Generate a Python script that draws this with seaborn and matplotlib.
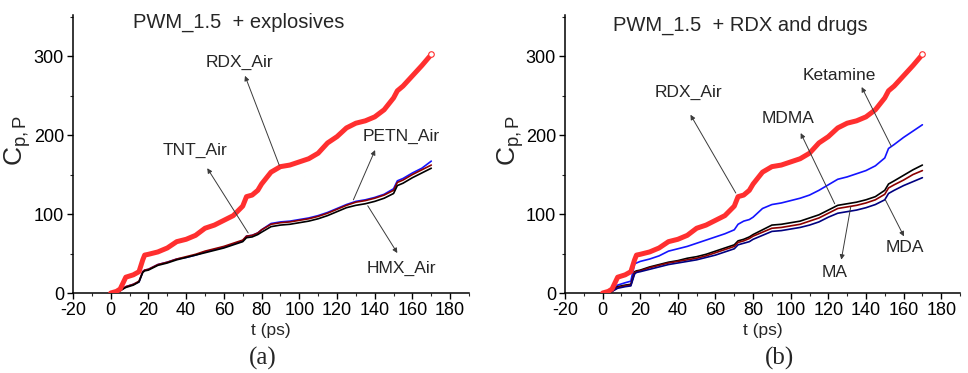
import matplotlib
matplotlib.use("Agg")
import matplotlib.pyplot as plt
import seaborn as sns
from matplotlib.ticker import MultipleLocator

# ---------------- data ----------------
t = [0, 3, 5, 8, 12, 15, 17, 18, 20, 25, 30, 35, 40, 45, 50, 55, 60, 65, 70, 72,
     75, 78, 80, 85, 90, 95, 100, 105, 110, 115, 120, 125, 130, 135, 140, 145,
     150, 152, 155, 160, 165, 170]

rdx_air = [0, 2, 5, 20, 23, 27, 42, 48, 49, 52, 57, 65, 68, 73, 82, 86, 92, 98, 110, 122,
           124, 130, 138, 153, 160, 162, 166, 170, 177, 190, 198, 209, 215, 218, 223, 232,
           247, 256, 262, 275, 288, 302]

# panel (a)
petn_air = [0, 1, 3, 8, 11, 14, 27, 29, 30, 36, 39, 43, 45, 48, 52, 55, 58, 62, 66, 72,
            73, 76, 80, 88, 90, 91, 93, 95, 98, 102, 107, 112, 116, 118, 121, 125,
            132, 142, 145, 152, 158, 167]
tnt_air = [0, 1, 3, 8, 11, 15, 27, 29, 30, 36, 39, 43, 46, 49, 53, 56, 59, 63, 67, 72,
           73, 76, 80, 87, 89, 90, 92, 94, 97, 101, 106, 111, 115, 117, 120, 124,
           130, 140, 143, 150, 156, 162]
hmx_air = [0, 1, 3, 7, 10, 14, 26, 28, 29, 35, 38, 42, 45, 48, 51, 54, 57, 61, 65, 70,
           71, 74, 77, 84, 86, 87, 89, 91, 94, 98, 103, 108, 111, 113, 116, 120,
           126, 136, 139, 146, 152, 158]

# panel (b)
ketamine = [0, 1, 3, 10, 13, 15, 37, 38, 40, 43, 47, 53, 56, 59, 63, 67, 71, 75, 80, 87,
            91, 93, 96, 107, 112, 114, 117, 120, 124, 130, 137, 144, 147, 151, 155, 161,
            171, 183, 188, 197, 205, 213]
mdma = [0, 1, 3, 8, 10, 11, 27, 28, 29, 33, 36, 39, 41, 44, 46, 49, 53, 57, 61, 66,
        68, 71, 74, 80, 86, 87, 89, 91, 95, 99, 105, 111, 113, 115, 118, 122,
        130, 138, 142, 149, 156, 162]
ma = [0, 1, 2, 7, 9, 10, 26, 27, 28, 32, 35, 38, 40, 42, 44, 47, 51, 55, 59, 64,
      66, 69, 72, 77, 82, 83, 85, 87, 91, 95, 101, 107, 109, 111, 114, 118,
      125, 133, 137, 143, 150, 155]
mda = [0, 0, 2, 6, 8, 9, 24, 26, 27, 30, 33, 36, 38, 40, 42, 45, 48, 52, 56, 61,
       63, 65, 68, 73, 78, 79, 81, 83, 86, 90, 96, 101, 103, 105, 108, 112,
       118, 126, 130, 136, 141, 146]

x_ticks = [-20, 0, 20, 40, 60, 80, 100, 120, 140, 160, 180]
y_ticks = [0, 100, 200, 300]

# ---------------- style ----------------
sns.set_theme(style="ticks")
plt.rcParams["font.family"] = ["Liberation Sans", "DejaVu Sans"]
plt.rcParams["axes.unicode_minus"] = False
plt.rcParams["mathtext.fontset"] = "custom"
plt.rcParams["mathtext.rm"] = "Liberation Sans"
plt.rcParams["mathtext.it"] = "Liberation Sans"

RED = "#ff2f2f"
BLUE = "#1414ff"
DRED = "#8b0000"
NAVY = "#000080"
ARROW = "#3a3a3a"

fig = plt.figure(figsize=(9.68, 3.73), dpi=100)
axA = fig.add_axes([73 / 968, 1 - 293 / 373, 396 / 968, 278 / 373])
axB = fig.add_axes([565 / 968, 1 - 293 / 373, 395 / 968, 278 / 373])


def line(ax, y, color, lw, z=2):
    sns.lineplot(x=t, y=y, ax=ax, color=color, lw=lw, estimator=None,
                 zorder=z, solid_capstyle="round", solid_joinstyle="round")


def arrow(ax, start, head):
    ax.annotate("", xy=head, xytext=start,
                arrowprops=dict(arrowstyle="-|>", color=ARROW, lw=0.7,
                                mutation_scale=7, shrinkA=0, shrinkB=0),
                zorder=5)


def style(ax):
    ax.set_xlim(-20, 190)
    ax.set_ylim(0, 352)
    ax.set_xticks(x_ticks)
    ax.set_yticks(y_ticks)
    ax.xaxis.set_minor_locator(MultipleLocator(10))
    ax.yaxis.set_minor_locator(MultipleLocator(50))
    ax.tick_params(which="major", direction="out", length=4.5, width=1.0,
                   labelsize=13, colors="black", pad=2)
    ax.tick_params(which="minor", direction="out", length=2.5, width=0.8)
    sns.despine(ax=ax)
    for s in ("left", "bottom"):
        ax.spines[s].set_linewidth(1.1)
        ax.spines[s].set_color("black")
    ax.set_xlabel("t (ps)", fontsize=12.5, labelpad=3)
    ax.set_ylabel(r"C$_{\mathregular{p,P}}$", fontsize=19)
    ax.yaxis.set_label_coords(-0.1, 0.55)
    ax.set_facecolor("white")


# ---- panel (a)
line(axA, petn_air, BLUE, 1.2)
line(axA, tnt_air, DRED, 1.2)
line(axA, hmx_air, "black", 1.2)
line(axA, rdx_air, RED, 3.6, z=3)
axA.plot(t[-1], rdx_air[-1], "o", ms=4, mfc="white", mec=RED, mew=0.8, zorder=4)
style(axA)

axA.text(68.5, 292, "RDX_Air", ha="center", va="center", fontsize=12.5)
arrow(axA, (89.4, 161.6), (71.2, 275))
axA.text(44.6, 180.6, "TNT_Air", ha="center", va="center", fontsize=12.5)
arrow(axA, (72.9, 76), (51.2, 158))
axA.text(154.3, 198, "PETN_Air", ha="center", va="center", fontsize=12.5)
arrow(axA, (128.7, 118), (140.2, 181))
axA.text(154, 31.6, "HMX_Air", ha="center", va="center", fontsize=12.5)
arrow(axA, (136.3, 110.5), (152, 50.6))

# ---- panel (b)
line(axB, ketamine, BLUE, 1.2)
line(axB, mdma, "black", 1.2)
line(axB, ma, DRED, 1.2)
line(axB, mda, NAVY, 1.2)
line(axB, rdx_air, RED, 3.6, z=3)
axB.plot(t[-1], rdx_air[-1], "o", ms=4, mfc="white", mec=RED, mew=0.8, zorder=4)
style(axB)

axB.text(45.8, 254, "RDX_Air", ha="center", va="center", fontsize=12.5)
arrow(axB, (70.8, 126.6), (46.7, 225.7))
axB.text(126, 276, "Ketamine", ha="center", va="center", fontsize=12.5)
arrow(axB, (153.5, 185.6), (137.7, 260.8))
axB.text(98.6, 221.5, "MDMA", ha="center", va="center", fontsize=12.5)
arrow(axB, (123.4, 113), (105.3, 202.5))
axB.text(123.4, 26, "MA", ha="center", va="center", fontsize=12.5)
arrow(axB, (131.9, 108.9), (126.9, 42.2))
axB.text(160.5, 57, "MDA", ha="center", va="center", fontsize=12.5)
arrow(axB, (150.3, 118), (160.2, 71.7))

# ---- titles and panel letters
fig.text(239 / 968, 1 - 22 / 373, "PWM_1.5  + explosives", ha="center", va="center", fontsize=14.5)
fig.text(740 / 968, 1 - 25 / 373, "PWM_1.5  + RDX and drugs", ha="center", va="center", fontsize=14.5)
fig.text(263 / 968, 1 - 358 / 373, "(a)", ha="center", va="center", fontsize=18,
         family=["Liberation Serif", "DejaVu Serif"])
fig.text(779 / 968, 1 - 358 / 373, "(b)", ha="center", va="center", fontsize=18,
         family=["Liberation Serif", "DejaVu Serif"])

fig.savefig("out.png", dpi=100, facecolor="white")
